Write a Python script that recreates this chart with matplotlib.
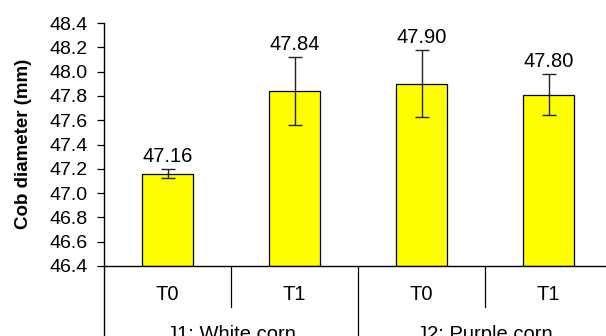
"""Cob diameter bar chart with two-level x axis."""

import matplotlib.pyplot as plt
import matplotlib.transforms as mtransforms
import numpy as np

plt.rcParams["font.family"] = ["Liberation Sans", "DejaVu Sans"]

treatments = ["T0", "T1", "T0", "T1"]
groups = ["J1: White corn", "J2: Purple corn"]
cob_diameter = [47.16, 47.84, 47.90, 47.81]
value_labels = ["47.16", "47.84", "47.90", "47.80"]
errors = [0.036, 0.28, 0.276, 0.17]
y_ticks = np.round(np.arange(46.4, 48.41, 0.2), 1)

fig = plt.figure(figsize=(6.06, 3.36), dpi=100)
ax = fig.add_axes([104 / 606, 70 / 336, 508 / 606, 243 / 336])

x = np.arange(len(treatments))
ax.bar(x, np.array(cob_diameter) - 46.4, bottom=46.4, width=0.4,
       color="#ffff00", edgecolor="black", linewidth=0.9, zorder=2)
ax.errorbar(x, cob_diameter, yerr=errors, fmt="none", ecolor="#222222",
            elinewidth=1.0, capsize=5, capthick=1.0, zorder=3)
for xi, yi, err, lab in zip(x, cob_diameter, errors, value_labels):
    ax.annotate(lab, (xi, yi + err), xytext=(0, 5), textcoords="offset points",
                ha="center", va="baseline", fontsize=14.5)

ax.set_xlim(-0.5, 3.5)
ax.set_ylim(46.4, 48.4)
ax.set_yticks(y_ticks)
ax.set_yticklabels([f"{v:.1f}" for v in y_ticks], fontsize=14)
ax.tick_params(axis="y", direction="out", length=5, width=0.9, pad=7)
ax.set_ylabel("Cob diameter (mm)", fontsize=13.5, fontweight="bold")
ax.yaxis.set_label_coords(-0.142, 0.504)

ax.set_xticks(x)
ax.set_xticklabels(treatments, fontsize=14.5)
ax.tick_params(axis="x", length=0, pad=14)

for side in ("top", "right", "left"):
    ax.spines[side].set_visible(False)
ax.spines["bottom"].set_linewidth(1.0)

# category separators and group separators below the axis
trans = mtransforms.blended_transform_factory(ax.transData, ax.transAxes)
for xs in (0.5, 2.5):
    ax.plot([xs, xs], [0, -41 / 243], color="black", lw=0.9,
            transform=trans, clip_on=False)
ax.plot([-0.5, -0.5], [1, -0.45], color="black", lw=1.0,
        transform=trans, clip_on=False)
ax.plot([1.5, 1.5], [0, -0.45], color="black", lw=0.9,
        transform=trans, clip_on=False)

for gi, name in enumerate(groups):
    ax.text(gi * 2 + 0.5, -74 / 243, name, transform=trans, ha="center",
            va="baseline", fontsize=14.5)

fig.savefig("out.png", dpi=100)
plt.close(fig)
